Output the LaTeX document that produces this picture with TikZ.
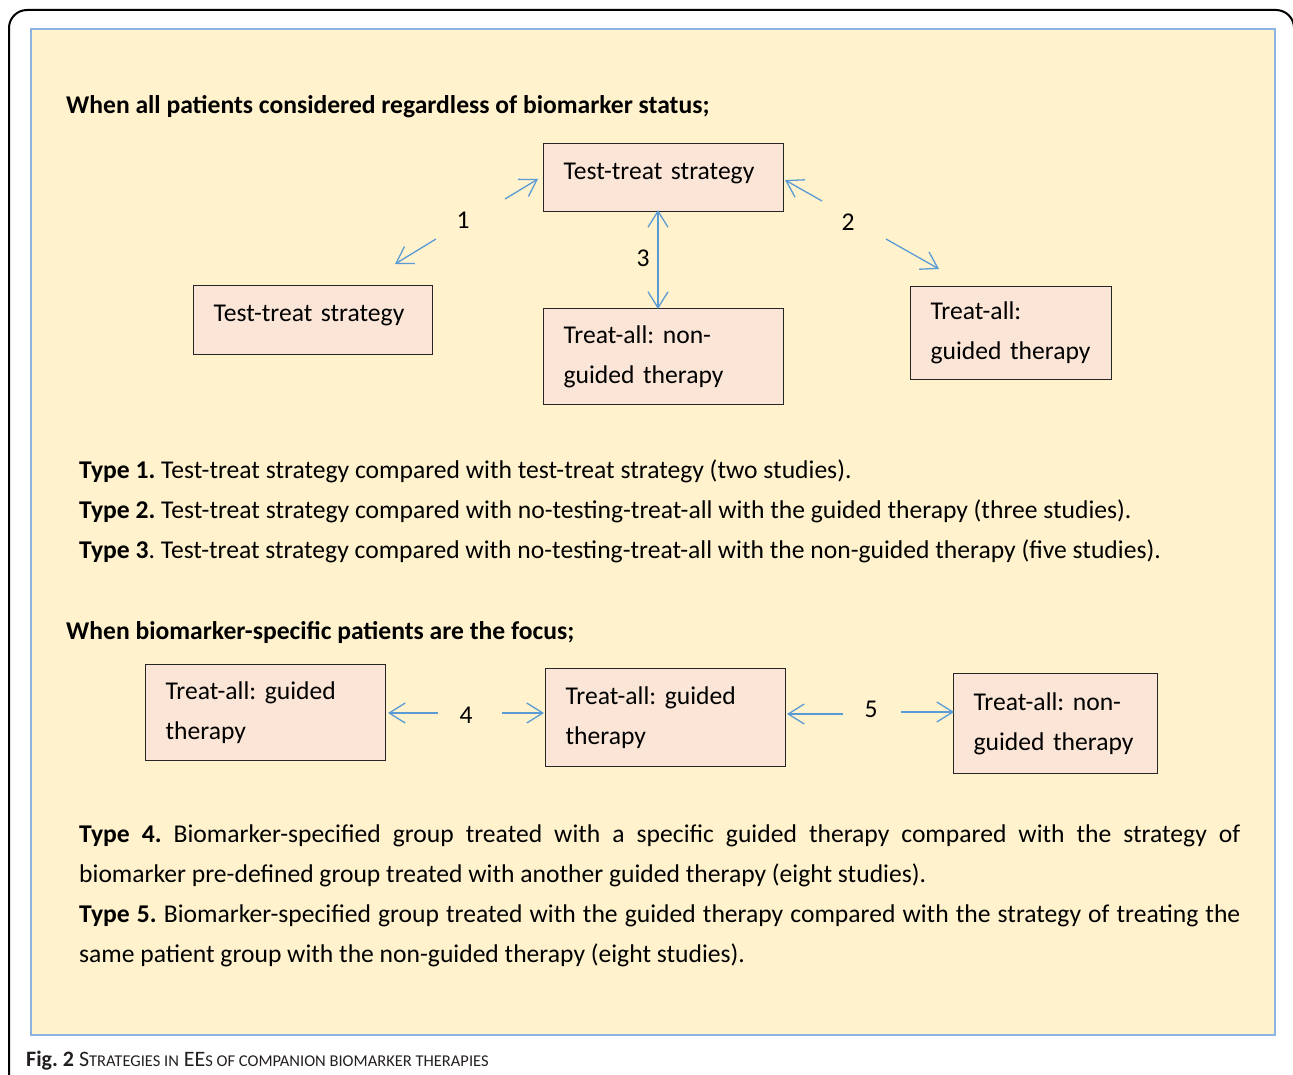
\documentclass[tikz,border=0pt]{standalone}
\usepackage{fontspec}
\setmainfont{Carlito}
\usetikzlibrary{arrows.meta}
\definecolor{bgy}{HTML}{FFF2CC}
\definecolor{boxp}{HTML}{FBE5D6}
\definecolor{frameb}{HTML}{8DB3E2}
\definecolor{arrb}{HTML}{5B9BD5}
\definecolor{capc}{HTML}{231F20}
\newcommand{\fsc}[1]{{\fontsize{16.5}{18}\selectfont #1}}
\frenchspacing
\begin{document}
\begin{tikzpicture}[x=1pt,y=-1pt,
  box/.style={draw=black!85, line width=1.2pt, fill=boxp, anchor=north west,
    inner xsep=20pt, inner ysep=0pt, align=left, font=\fontsize{25.6}{40}\selectfont},
  conn/.style={draw=arrb, line width=1.3pt, -{Straight Barb[length=16pt,width=20pt]}},
  connb/.style={draw=arrb, line width=1.3pt, {Straight Barb[length=16pt,width=20pt]}-{Straight Barb[length=16pt,width=20pt]}},
  lab/.style={font=\fontsize{25.6}{28}\selectfont, inner sep=0pt},
  txt/.style={anchor=base west, inner sep=0pt, font=\fontsize{25.6}{40}\selectfont},
  head/.style={anchor=base west, inner sep=0pt, font=\fontsize{25.6}{40}\selectfont\bfseries}
]
\useasboundingbox (0,0) rectangle (1293,1075);
% outer frame
\draw[line width=2pt, black, rounded corners=18pt] (9,1090) -- (9,10) -- (1294,10) -- (1294,1090);
% inner panel
\node[draw=frameb, line width=2pt, fill=bgy, anchor=north west, minimum width=1244pt, minimum height=1006pt, inner sep=0pt] (panel) at (30,28) {};

% headings
\node[head] (h1) at (66,114) {When all patients considered regardless of biomarker status;};
\node[head] (h2) at (66,639) {When biomarker-specific patients are the focus;};

% upper boxes
\node[box, text width=200pt, minimum height=68pt] (t0) at (543,143) {\raisebox{12pt}{Test-treat strategy}};
\node[box, text width=199pt, minimum height=69pt] (t1) at (193,285) {\raisebox{14pt}{Test-treat strategy}};
\node[box, text width=200pt, minimum height=96pt] (t2) at (543,308) {Treat-all: non-\\guided therapy};
\node[box, text width=161pt, minimum height=93pt] (t3) at (910,286) {Treat-all:\\guided therapy};

% arrow labels
\node[lab] (l1) at (463,220) {1};
\node[lab] (l2) at (848,222) {2};
\node[lab] (l3) at (643,258) {3};
\coordinate (a1s) at (505,199); \coordinate (a1e) at (538,179);
\coordinate (a1u) at (436,239); \coordinate (a1f) at (395,264);
\coordinate (a2s) at (822,201); \coordinate (a2e) at (785,180);
\coordinate (a2u) at (886,239); \coordinate (a2f) at (939,269);
\coordinate (a3t) at (658,210); \coordinate (a3b) at (658,309);
\draw[conn] (a1s) -- (a1e);
\draw[conn] (a1u) -- (a1f);
\draw[conn] (a2s) -- (a2e);
\draw[conn] (a2u) -- (a2f);
\draw[connb] (a3t) -- (a3b);

% type lines
\node[txt] (ty1) at (79,478) {\textbf{Type 1.} Test-treat strategy compared with test-treat strategy (two studies).};
\node[txt] (ty2) at (79,518) {\textbf{Type 2.} Test-treat strategy compared with no-testing-treat-all with the guided therapy (three studies).};
\node[txt] (ty3) at (79,558) {\textbf{Type 3}. Test-treat strategy compared with no-testing-treat-all with the non-guided therapy (five studies).};

% lower boxes
\node[box, text width=200pt, minimum height=96pt] (b1) at (145,664) {Treat-all: guided\\therapy};
\node[box, text width=200pt, minimum height=98pt] (b2) at (545,668) {Treat-all: guided\\therapy};
\node[box, text width=164pt, minimum height=100pt] (b3) at (953,673) {Treat-all: non-\\guided therapy};

\node[lab] (l4) at (466,715) {4};
\node[lab] (l5) at (871,709) {5};
\coordinate (a4s) at (438,713); \coordinate (a4e) at (388,713);
\coordinate (a4u) at (502,713); \coordinate (a4f) at (544,713);
\coordinate (a5s) at (843,714); \coordinate (a5e) at (787,714);
\coordinate (a5u) at (901,712); \coordinate (a5f) at (954,712);
\draw[conn] (a4s) -- (a4e);
\draw[conn] (a4u) -- (a4f);
\draw[conn] (a5s) -- (a5e);
\draw[conn] (a5u) -- (a5f);

% paragraphs
\node[anchor=north west, inner sep=0pt, text width=1161pt, align=justify, font=\fontsize{25.6}{40}\selectfont] (para) at (79,825)
{\textbf{Type 4.} Biomarker-specified group treated with a specific guided therapy compared with the strategy of\linebreak biomarker pre-defined group treated with another guided therapy (eight studies).\par
\textbf{Type 5.} Biomarker-specified group treated with the guided therapy compared with the strategy of treating the\linebreak same patient group with the non-guided therapy (eight studies).};

% caption
\node[anchor=base west, inner sep=0pt, text=capc, font=\fontsize{22}{24}\selectfont] (cap) at (26,1066)
{\textbf{Fig. 2} S\fsc{TRATEGIES IN} EE\fsc{S OF COMPANION BIOMARKER THERAPIES}};
\end{tikzpicture}
\end{document}
